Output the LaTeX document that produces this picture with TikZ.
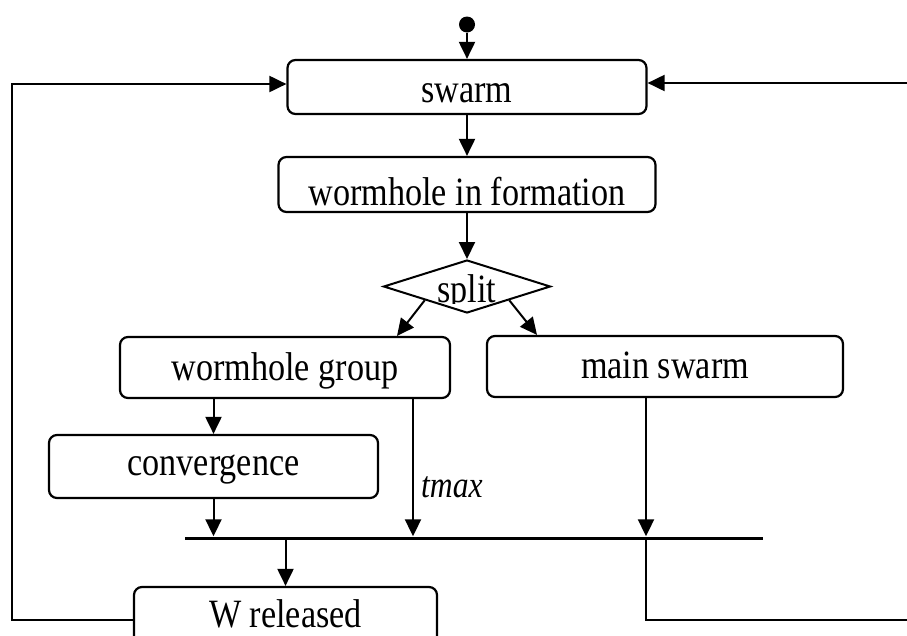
\documentclass[tikz,border=0pt]{standalone}
\usepackage{graphicx}
\usepackage{fontspec}
\setmainfont{Liberation Serif}
\usetikzlibrary{arrows.meta,shapes.geometric}
\newcommand\stt[1]{\scalebox{1.02}[1.2]{#1}}
\begin{document}
\begin{tikzpicture}[x=1pt,y=-1pt,
  box/.style={draw, line width=2.2pt, rounded corners=8pt, inner sep=0pt,
    font=\fontsize{33.5}{36}\selectfont, text depth=0pt},
  arr/.style={line width=2pt, -{Triangle[length=17pt,width=16pt]}},
  ln/.style={line width=2pt},
  lbl/.style={inner sep=0pt, font=\fontsize{33.5}{36}\selectfont},
]
\useasboundingbox (0,0) rectangle (907,635);
\clip (0,0) rectangle (907,635);

% start dot
\node[circle, fill, inner sep=0pt, minimum size=16pt] (start) at (467,24.5) {};

% boxes
\node[box, minimum width=359pt, minimum height=54pt, text height=30pt] (swarm) at (467,87) {\stt{swarm}};
\node[box, minimum width=377pt, minimum height=55pt, text height=41pt] (wif) at (467,184.5) {\stt{wormhole in formation}};
\node[diamond, draw, line width=2pt, inner sep=0pt, minimum width=167pt, minimum height=53pt] (split) at (467,286.5) {};
\begin{scope}
  \clip (380,250) rectangle (560,303);
  \node[lbl, anchor=base] (splitlbl) at (467,302) {\stt{split}};
\end{scope}
\node[box, minimum width=330pt, minimum height=61pt, text height=25pt] (wg) at (285,367.5) {\stt{wormhole group}};
\node[box, minimum width=356pt, minimum height=61pt, text height=23pt] (ms) at (665,366.5) {\stt{main swarm}};
\node[box, minimum width=329pt, minimum height=63pt, text height=17pt] (conv) at (213.5,466.5) {\stt{convergence}};
\node[box, minimum width=303pt, minimum height=66pt, text height=14pt] (wr) at (285.5,620) {\stt{W released}};

% synchronisation bar
\node[fill, inner sep=0pt, minimum width=578pt, minimum height=3pt] (bar) at (474,538) {};

% tmax label
\node[lbl, anchor=base west, font=\fontsize{31}{34}\selectfont\itshape] (tmax) at (421,497) {\stt{tmax}};

% connectors
\draw[arr] (start) -- (start |- swarm.north);
\draw[arr] (swarm) -- (wif);
\draw[arr] (wif) -- (split);
\draw[arr] (split.south west) -- ([xshift=112pt]wg.north);
\draw[arr] (split.south east) -- ([xshift=-128pt]ms.north);
\draw[arr] (conv.north |- wg.south) -- (conv.north);
\draw[arr] (conv.south) -- (conv.south |- bar.north);
\draw[arr] ([xshift=128pt]wg.south) -- ([xshift=128pt]wg.south |- bar.north);
\draw[arr] ([xshift=-19pt]ms.south) -- ([xshift=-19pt]ms.south |- bar.north);
\draw[arr] (wr.north |- bar.south) -- (wr.north);
\draw[arr] (wr.west) -- (12,620) |- ([yshift=3pt]swarm.west);
\draw[arr] ([xshift=-19pt]ms.south |- bar.south) |- (940,620) |- ([yshift=4pt]swarm.east);
\end{tikzpicture}
\end{document}
